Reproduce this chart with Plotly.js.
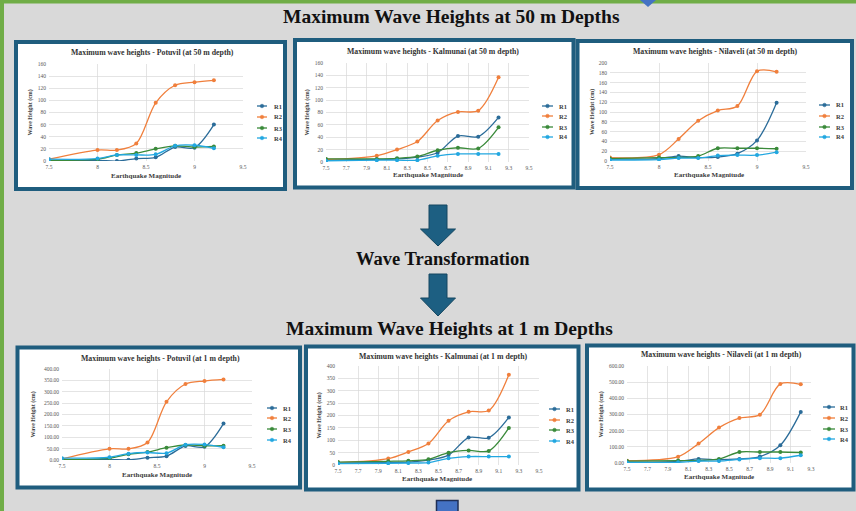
<!DOCTYPE html>
<html>
<head>
<meta charset="utf-8">
<script src="https://cdn.plot.ly/plotly-3.0.1.min.js"></script>
<style>html,body{margin:0;padding:0;background:#d9d9d9;}#chart{width:856px;height:511px;}</style>
</head>
<body>
<div id="chart"></div>
<script>
// ---------------- DATA ----------------
const magnitudes = [7.5, 8.0, 8.2, 8.4, 8.6, 8.8, 9.0, 9.2];
const seriesNames = ['R1', 'R2', 'R3', 'R4'];

const potuvil50 = [
  [1, 1, 0, 4, 6, 23, 22, 60],
  [3, 18, 18, 29, 96, 125, 130, 133],
  [1, 3, 10, 13, 20, 25, 23, 24],
  [3, 4, 10, 10, 11, 25, 26, 21]
];
const kalmunai50 = [
  [3, 4, 5, 8, 15, 42, 41, 72],
  [4, 10, 20, 33, 67, 81, 83, 137],
  [5, 5, 6, 9, 19, 23, 22, 56],
  [2, 3, 3, 3, 10, 13, 13, 13]
];
const nilaveli50 = [
  [4, 5, 10, 7, 8, 15, 42, 119],
  [7, 13, 45, 82, 103, 112, 183, 182],
  [5, 7, 7, 10, 26, 26, 26, 25],
  [2, 3, 6, 6, 11, 12, 12, 18]
];
const potuvil1 = [
  [2, 2, 1, 10, 17, 62, 58, 160],
  [5, 49, 49, 77, 256, 334, 347, 354],
  [2, 8, 25, 35, 54, 66, 62, 63],
  [8, 12, 28, 33, 30, 67, 68, 56]
];
const kalmunai1 = [
  [8, 10, 12, 20, 40, 111, 110, 192],
  [10, 26, 53, 87, 179, 215, 220, 365],
  [12, 15, 17, 23, 50, 59, 57, 150],
  [6, 7, 8, 10, 27, 34, 34, 34]
];
const nilaveli1 = [
  [5, 10, 25, 20, 25, 40, 110, 316],
  [14, 39, 120, 219, 278, 299, 489, 487],
  [12, 15, 15, 25, 68, 68, 68, 65],
  [3, 4, 12, 12, 22, 30, 30, 48]
];

const chartTitles = [
  'Maximum wave heights - Potuvil (at 50 m depth)',
  'Maximum wave heights - Kalmunai (at 50 m depth)',
  'Maximum wave heights - Nilaveli (at 50 m depth)',
  'Maximum wave heights - Potuvil (at 1 m depth)',
  'Maximum wave heights - Kalmunai (at 1 m depth)',
  'Maximum wave heights - Nilaveli (at 1 m depth)'
];
const headerTop = 'Maximum Wave Heights at 50 m Depths';
const headerMid = 'Wave Transformation';
const headerBottom = 'Maximum Wave Heights at 1 m Depths';
const xTitle = 'Earthquake Magnitude';
const yTitle = 'Wave Height (cm)';

// ---------------- LAYOUT GEOMETRY (pixels) ----------------
const W = 856, H = 511;
const px = x => x / W;
const py = y => 1 - y / H;
const colors = ['#2b6c99', '#f07f3c', '#3a8a3a', '#22a7e0'];
const serif = 'Liberation Serif';

const panels = [
  {data: potuvil50, box: [16, 42, 285, 189], plot: [49, 64, 243, 161], xmax: 9.5, dx: 0.5, ymax: 160, dy: 20, fmt: 'd',
   tx: 152, ty: 53, xtx: 146, xty: 176, ytx: 30, leg: [257, 267, 272], legY: [106, 117, 128, 138]},
  {data: kalmunai50, box: [295, 40, 573.5, 187.5], plot: [326, 63, 529, 162], xmax: 9.5, dx: 0.2, ymax: 160, dy: 20, fmt: 'd',
   tx: 433, ty: 51, xtx: 428, xty: 175, ytx: 307, leg: [542, 553, 557], legY: [106, 116, 127, 137]},
  {data: nilaveli50, box: [577.5, 41, 852, 188], plot: [610, 63, 806, 161], xmax: 9.5, dx: 0.5, ymax: 200, dy: 20, fmt: 'd',
   tx: 715, ty: 51, xtx: 709, xty: 175, ytx: 592, leg: [819, 830, 834], legY: [105, 116, 127, 137]},
  {data: potuvil1, box: [17.5, 347.5, 300, 487.5], plot: [62, 369, 252, 460], xmax: 9.5, dx: 0.5, ymax: 400, dy: 50, fmt: '.2f',
   tx: 160, ty: 358, xtx: 157, xty: 475, ytx: 33, leg: [267, 277, 281], legY: [408, 418, 429, 440]},
  {data: kalmunai1, box: [306, 346.5, 578.5, 489.5], plot: [338, 366, 539, 465], xmax: 9.5, dx: 0.2, ymax: 400, dy: 50, fmt: 'd',
   tx: 443, ty: 356, xtx: 437, xty: 479, ytx: 319, leg: [549, 560, 564], legY: [409, 420, 430, 441]},
  {data: nilaveli1, box: [587, 345.5, 853.5, 489.5], plot: [627, 366, 811, 463], xmax: 9.3, dx: 0.2, ymax: 600, dy: 100, fmt: '.2f',
   tx: 721, ty: 354, xtx: 719, xty: 477, ytx: 601, leg: [823, 835, 838], legY: [407, 418, 429, 439]}
];

const traces = [];
const layout = {
  width: W, height: H,
  margin: {l: 0, r: 0, t: 0, b: 0},
  paper_bgcolor: '#d9d9d9',
  plot_bgcolor: 'rgba(0,0,0,0)',
  showlegend: false,
  shapes: [],
  annotations: [],
  font: {family: serif}
};

// background decorations
layout.shapes.push({type: 'rect', xref: 'paper', yref: 'paper', x0: 0, x1: px(4), y0: 0, y1: 1, fillcolor: '#70ad47', line: {width: 0}, layer: 'below'});
layout.shapes.push({type: 'rect', xref: 'paper', yref: 'paper', x0: 0, x1: 1, y0: py(3.5), y1: 1, fillcolor: '#70ad47', line: {width: 0}, layer: 'below'});
layout.shapes.push({type: 'path', xref: 'paper', yref: 'paper', layer: 'below',
  path: `M${px(640)},${py(0)} L${px(656)},${py(0)} L${px(648)},${py(7)} Z`, fillcolor: '#4472c4', line: {width: 0}});
layout.shapes.push({type: 'rect', xref: 'paper', yref: 'paper', layer: 'below',
  x0: px(436.5), x1: px(458), y0: py(512), y1: py(500.5), fillcolor: '#4472c4', line: {color: '#1f2f56', width: 1.5}});

function arrow(cx, top, shaftBottom, tip) {
  const p = [[cx - 9, top], [cx + 9, top], [cx + 9, shaftBottom], [cx + 17.5, shaftBottom], [cx, tip], [cx - 17.5, shaftBottom], [cx - 9, shaftBottom]];
  return {type: 'path', xref: 'paper', yref: 'paper', layer: 'below',
    path: 'M' + p.map(q => px(q[0]) + ',' + py(q[1])).join(' L') + ' Z',
    fillcolor: '#1d5f82', line: {color: '#154760', width: 1}};
}
layout.shapes.push(arrow(438, 205, 229, 246));
layout.shapes.push(arrow(438, 274, 298, 316));

const headerFont = {family: serif, size: 19.5, color: '#111111'};
const midFont = {family: serif, size: 18.5, color: '#111111'};
layout.annotations.push({xref: 'paper', yref: 'paper', x: px(451), y: py(17), text: '<b>' + headerTop + '</b>', showarrow: false, font: headerFont, xanchor: 'center', yanchor: 'middle'});
layout.annotations.push({xref: 'paper', yref: 'paper', x: px(443), y: py(259), text: '<b>' + headerMid + '</b>', showarrow: false, font: midFont, xanchor: 'center', yanchor: 'middle'});
layout.annotations.push({xref: 'paper', yref: 'paper', x: px(449), y: py(328), text: '<b>' + headerBottom + '</b>', showarrow: false, font: headerFont, xanchor: 'center', yanchor: 'middle'});

panels.forEach((pn, i) => {
  const n = i + 1;
  const xs = n === 1 ? '' : String(n);
  // panel frame
  layout.shapes.push({type: 'rect', xref: 'paper', yref: 'paper', layer: 'below',
    x0: px(pn.box[0]), x1: px(pn.box[2]), y0: py(pn.box[3]), y1: py(pn.box[1]),
    fillcolor: '#ffffff', line: {color: '#1f5d7e', width: 4}});

  layout['xaxis' + xs] = {
    domain: [px(pn.plot[0]), px(pn.plot[2])], anchor: 'y' + xs,
    range: [7.5, pn.xmax], tick0: 7.5, dtick: pn.dx,
    showgrid: true, gridcolor: '#d9d9d9', gridwidth: 0.7, zeroline: false, showline: false,
    ticks: '', ticklabelstandoff: 1, tickfont: {family: serif, size: 5.5, color: '#595959'}, fixedrange: true
  };
  layout['yaxis' + xs] = {
    domain: [py(pn.plot[3]), py(pn.plot[1])], anchor: 'x' + xs,
    range: [0, pn.ymax], tick0: 0, dtick: pn.dy, tickformat: pn.fmt,
    showgrid: true, gridcolor: '#d9d9d9', gridwidth: 0.7, zeroline: false, showline: false,
    ticks: '', ticklabelstandoff: 2, tickfont: {family: serif, size: 5.5, color: '#595959'}, fixedrange: true
  };

  pn.data.forEach((vals, k) => {
    traces.push({
      type: 'scatter', mode: 'lines+markers', name: seriesNames[k],
      x: magnitudes, y: vals, xaxis: 'x' + xs, yaxis: 'y' + xs,
      line: {color: colors[k], width: 1.3, shape: 'spline', smoothing: 0.9},
      marker: {color: colors[k], size: 4}
    });
  });

  // chart title & axis titles
  layout.annotations.push({xref: 'paper', yref: 'paper', x: px(pn.tx), y: py(pn.ty), text: '<b>' + chartTitles[i] + '</b>',
    showarrow: false, xanchor: 'center', yanchor: 'middle', font: {family: serif, size: 7.8, color: '#333333'}});
  layout.annotations.push({xref: 'paper', yref: 'paper', x: px(pn.xtx), y: py(pn.xty), text: '<b>' + xTitle + '</b>',
    showarrow: false, xanchor: 'center', yanchor: 'middle', font: {family: serif, size: 7, color: '#404040'}});
  layout.annotations.push({xref: 'paper', yref: 'paper', x: px(pn.ytx), y: py((pn.plot[1] + pn.plot[3]) / 2), text: '<b>' + yTitle + '</b>',
    showarrow: false, textangle: -90, xanchor: 'center', yanchor: 'middle', font: {family: serif, size: 6, color: '#404040'}});

  // legend (drawn as keys next to each chart)
  seriesNames.forEach((nm, k) => {
    const ly = pn.legY[k];
    layout.shapes.push({type: 'line', xref: 'paper', yref: 'paper', x0: px(pn.leg[0]), x1: px(pn.leg[1]), y0: py(ly), y1: py(ly),
      line: {color: colors[k], width: 1.3}});
    const mx = (pn.leg[0] + pn.leg[1]) / 2;
    layout.shapes.push({type: 'circle', xref: 'paper', yref: 'paper', x0: px(mx - 1.8), x1: px(mx + 1.8), y0: py(ly + 1.8), y1: py(ly - 1.8),
      fillcolor: colors[k], line: {color: colors[k], width: 0.5}});
    layout.annotations.push({xref: 'paper', yref: 'paper', x: px(pn.leg[2]), y: py(ly), text: '<b>' + nm + '</b>',
      showarrow: false, xanchor: 'left', yanchor: 'middle', font: {family: serif, size: 6.5, color: '#404040'}});
  });
});

Plotly.newPlot('chart', traces, layout, {displayModeBar: false, staticPlot: true});
</script>
</body>
</html>
